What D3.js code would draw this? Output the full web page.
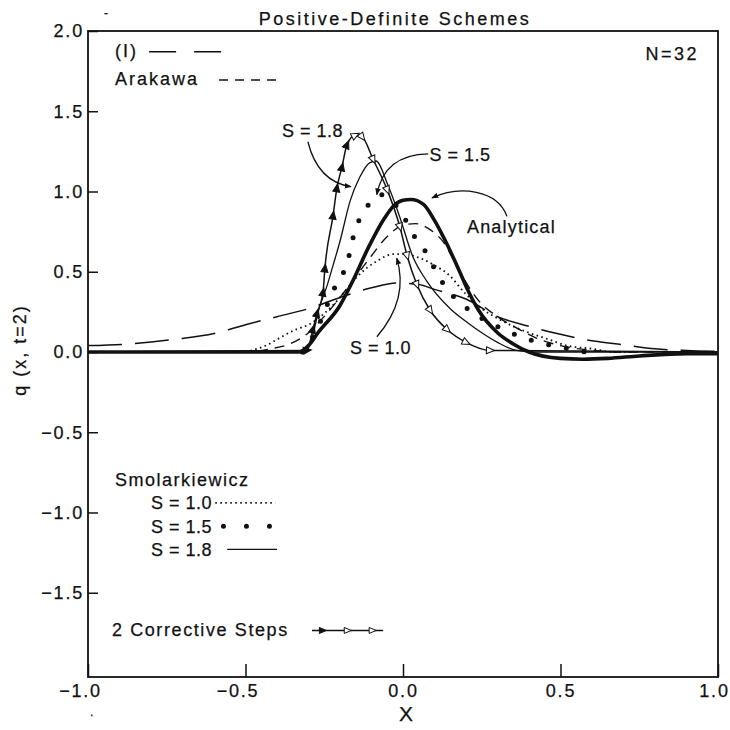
<!DOCTYPE html>
<html><head><meta charset="utf-8">
<script src="https://cdn.jsdelivr.net/npm/d3@7"></script>
<style>
body{margin:0;background:#fff;}
text{font-family:"Liberation Sans",Arial,Helvetica,sans-serif;fill:#111;stroke:#111;stroke-width:0.25;}
</style></head>
<body>
<svg id="chart" width="730" height="730"></svg>
<script>
// ---------- data ----------
const xTicks = [-1.0, -0.5, 0.0, 0.5, 1.0];
const xTickLabels = ["\u22121.0", "\u22120.5", "0.0", "0.5", "1.0"];
const yTicks = [2.0, 1.5, 1.0, 0.5, 0.0, -0.5, -1.0, -1.5];
const yTickLabels = ["2.0", "1.5", "1.0", "0.5", "0.0", "\u22120.5", "\u22121.0", "\u22121.5"];

const analyticalX = [-1, -0.6, -0.4, -0.33, -0.3, -0.27, -0.2, -0.16, -0.11, -0.06, -0.03, 0.0, 0.025, 0.065, 0.1, 0.13, 0.18, 0.2, 0.24, 0.3, 0.35, 0.4, 0.5, 0.57, 0.65, 0.75, 0.9, 1.0];
const analyticalY = [0.0, 0.0, 0.0, 0.0, 0.04, 0.12, 0.29, 0.44, 0.65, 0.83, 0.91, 0.945, 0.95, 0.92, 0.82, 0.71, 0.50, 0.41, 0.26, 0.12, 0.05, 0.0, -0.04, -0.045, -0.04, -0.025, -0.01, -0.01];

const schemeIX = [-1.0, -0.87, -0.72, -0.6, -0.5, -0.4, -0.3, -0.2, -0.1, -0.02, 0.05, 0.1, 0.2, 0.3, 0.4, 0.5, 0.6, 0.7, 0.8, 0.9, 1.0];
const schemeIY = [0.04, 0.05, 0.08, 0.115, 0.17, 0.22, 0.27, 0.34, 0.40, 0.43, 0.42, 0.39, 0.33, 0.22, 0.16, 0.11, 0.07, 0.045, 0.02, 0.01, 0.005];

const arakawaX = [-1, -0.5, -0.42, -0.36, -0.3, -0.26, -0.2, -0.15, -0.1, -0.05, 0.0, 0.04, 0.08, 0.13, 0.18, 0.24, 0.3, 0.36, 0.42, 0.5, 0.6, 0.7, 1.0];
const arakawaY = [0.0, 0.0, 0.02, 0.05, 0.12, 0.2, 0.34, 0.47, 0.6, 0.72, 0.79, 0.8, 0.77, 0.68, 0.5, 0.32, 0.22, 0.15, 0.09, 0.04, 0.01, 0.0, 0.0];

const s10X = [-0.5, -0.43, -0.39, -0.34, -0.3, -0.25, -0.2, -0.15, -0.08, -0.03, 0.0, 0.06, 0.1, 0.14, 0.2, 0.25, 0.3, 0.35, 0.4, 0.46, 0.52, 0.6, 0.67, 0.75];
const s10Y = [0.0, 0.045, 0.09, 0.14, 0.17, 0.24, 0.34, 0.46, 0.57, 0.61, 0.61, 0.58, 0.54, 0.49, 0.36, 0.27, 0.21, 0.16, 0.12, 0.08, 0.04, 0.02, 0.0, 0.0];

const s15X = [-0.32, -0.3, -0.26, -0.22, -0.19, -0.17, -0.155, -0.125, -0.095, -0.07, -0.04, 0.0, 0.03, 0.07, 0.1, 0.14, 0.18, 0.25, 0.32, 0.38, 0.43, 0.5, 0.58];
const s15Y = [0.0, 0.05, 0.2, 0.39, 0.49, 0.61, 0.74, 0.87, 0.95, 0.98, 0.95, 0.85, 0.74, 0.63, 0.52, 0.39, 0.31, 0.21, 0.14, 0.09, 0.06, 0.03, 0.0];

const s18X = [-1, -0.31, -0.29, -0.265, -0.24, -0.222, -0.2, -0.168, -0.137, -0.105, -0.085, -0.05, -0.01, 0.03, 0.076, 0.15, 0.2, 0.25, 0.3, 0.36, 0.42, 1.0];
const s18Y = [0.0, 0.0, 0.08, 0.28, 0.42, 0.54, 0.69, 0.94, 1.09, 1.18, 1.19, 1.05, 0.84, 0.6, 0.44, 0.27, 0.19, 0.12, 0.06, 0.01, 0.0, 0.0];

const corrX = [-1, -0.305, -0.286, -0.273, -0.254, -0.248, -0.222, -0.21, -0.194, -0.178, -0.152, -0.13, -0.095, -0.05, -0.01, 0.013, 0.044, 0.086, 0.14, 0.2, 0.276, 1.0];
const corrY = [0.0, 0.01, 0.14, 0.24, 0.37, 0.52, 0.85, 1.02, 1.15, 1.29, 1.35, 1.34, 1.2, 1.01, 0.78, 0.6, 0.42, 0.26, 0.14, 0.06, 0.01, 0.0];

// ---------- setup ----------
const svg = d3.select("#chart");
const x = d3.scaleLinear().domain([-1, 1]).range([88, 718]);
const y = d3.scaleLinear().domain([-2.025, 2]).range([677, 31]);
const FONT = 18;

const zip = (xs, ys) => xs.map((v, i) => [v, ys[i]]);
const line = d3.line().x(d => x(d[0])).y(d => y(d[1])).curve(d3.curveMonotoneX);

// arrow marker
const defs = svg.append("defs");
defs.append("marker").attr("id", "arrow").attr("viewBox", "0 0 10 10")
  .attr("refX", 9).attr("refY", 5).attr("markerWidth", 7).attr("markerHeight", 7)
  .attr("orient", "auto").attr("markerUnits", "userSpaceOnUse")
  .append("path").attr("d", "M0,1 L10,5 L0,9 Z").attr("fill", "#111");

const plot = svg.append("g");

// axes
const xAxis = d3.axisBottom(x).tickValues(xTicks).tickFormat((d, i) => xTickLabels[i])
  .tickSizeInner(-13).tickSizeOuter(0).tickPadding(7);
const gx = svg.append("g").attr("transform", `translate(0,${y(-2.025)})`).call(xAxis);
gx.select(".domain").remove();
gx.selectAll("line").attr("stroke", "#111").attr("stroke-width", 1.5);
gx.selectAll("text").attr("font-size", FONT).attr("letter-spacing", 1.8)
  .attr("dx", (d) => d < 0 ? -8 : (d === 1 ? -4 : 0));

const yAxis = d3.axisLeft(y).tickValues(yTicks).tickFormat((d, i) => yTickLabels[i])
  .tickSizeInner(-10).tickSizeOuter(0).tickPadding(4);
const gy = svg.append("g").attr("transform", `translate(${x(-1)},0)`).call(yAxis);
gy.select(".domain").remove();
gy.selectAll("line").attr("stroke", "#111").attr("stroke-width", 1.5);
gy.selectAll("text").attr("font-size", FONT).attr("letter-spacing", 1.8);

// frame
svg.append("rect").attr("x", x(-1)).attr("y", y(2)).attr("width", x(1) - x(-1))
  .attr("height", y(-2.025) - y(2)).attr("fill", "none").attr("stroke", "#111").attr("stroke-width", 1.8);

// curves
function drawCurve(xs, ys, style) {
  return plot.append("path").datum(zip(xs, ys)).attr("d", line).attr("fill", "none")
    .attr("stroke", "#111").attr("stroke-width", style.w)
    .attr("stroke-dasharray", style.dash || null)
    .attr("stroke-linecap", style.cap || "butt");
}
const styleI = {w: 1.5, dash: "34 13"};
const styleAr = {w: 1.4, dash: "10 7"};
const style10 = {w: 1.8, dash: "1.6 3.4"};
const style15 = {w: 5, dash: "0 18", cap: "round"};
const style18 = {w: 1.3};
const styleCorr = {w: 1.5};
const styleAn = {w: 3.6};

drawCurve(schemeIX, schemeIY, styleI);
drawCurve(arakawaX, arakawaY, styleAr);
drawCurve(s10X, s10Y, style10);
drawCurve(s15X, s15Y, style15);
drawCurve(s18X, s18Y, style18);
drawCurve(corrX, corrY, styleCorr);
drawCurve(analyticalX, analyticalY, styleAn);

// triangle markers along the corrective-steps curve
const tri = "M4.5,0 L-3.5,-3.5 L-3.5,3.5 Z";
const peakIdx = corrY.indexOf(d3.max(corrY));
for (let i = 1; i < corrX.length - 1; i++) {
  const px = x(corrX[i]), py = y(corrY[i]);
  const ax = x(corrX[i + 1]) - x(corrX[i - 1]);
  const ay = y(corrY[i + 1]) - y(corrY[i - 1]);
  const ang = Math.atan2(ay, ax) * 180 / Math.PI;
  plot.append("path").attr("d", tri)
    .attr("transform", `translate(${px},${py}) rotate(${ang})`)
    .attr("fill", i < peakIdx ? "#111" : "#fff").attr("stroke", "#111").attr("stroke-width", 1);
}

// ---------- annotations (data coordinates) ----------
function arrowPath(pts) {
  const p = pts.map(d => [x(d[0]), y(d[1])]);
  let d = `M${p[0][0]},${p[0][1]}`;
  if (p.length === 3) d += ` Q${p[1][0]},${p[1][1]} ${p[2][0]},${p[2][1]}`;
  else d += ` C${p[1][0]},${p[1][1]} ${p[2][0]},${p[2][1]} ${p[3][0]},${p[3][1]}`;
  svg.append("path").attr("d", d).attr("fill", "none").attr("stroke", "#111")
    .attr("stroke-width", 1.3).attr("marker-end", "url(#arrow)");
}
function label(tx, ty, str, opts = {}) {
  return svg.append("text").attr("x", x(tx)).attr("y", y(ty)).text(str)
    .attr("font-size", opts.size || FONT).attr("letter-spacing", opts.ls != null ? opts.ls : 2)
    .attr("text-anchor", opts.anchor || "start");
}
// S = 1.8
label(-0.384, 1.34, "S = 1.8", {ls: 0.5});
arrowPath([[-0.302, 1.31], [-0.27, 1.06], [-0.165, 1.03]]);
// S = 1.5
label(0.084, 1.19, "S = 1.5", {ls: 0.5});
arrowPath([[0.08, 1.235], [-0.06, 1.23], [-0.083, 0.98]]);
// Analytical
label(0.203, 0.74, "Analytical", {ls: 1.2});
arrowPath([[0.33, 0.845], [0.30, 1.01], [0.18, 1.04], [0.092, 0.96]]);
// S = 1.0
label(-0.168, -0.01, "S = 1.0", {ls: 0.5});
arrowPath([[-0.083, 0.095], [0.02, 0.33], [-0.02, 0.585]]);

// legend top
label(-0.914, 1.84, "(I)");
label(-0.914, 1.665, "Arakawa");
label(0.94, 1.82, "N=32", {anchor: "end", ls: 2.5});
function legendLine(x0, x1, vy, style) {
  svg.append("path").datum([[x0, vy], [x1, vy]])
    .attr("d", d3.line().x(d => x(d[0])).y(d => y(d[1])))
    .attr("stroke", "#111").attr("stroke-width", style.w).attr("fill", "none")
    .attr("stroke-dasharray", style.dash || null).attr("stroke-linecap", style.cap || "butt");
}
legendLine(-0.806, -0.55, 1.87, {w: 1.5, dash: "27 18"});
legendLine(-0.584, -0.4, 1.695, {w: 1.4, dash: "9 7"});

// legend bottom
label(-0.914, -0.835, "Smolarkiewicz", {ls: 1.5});
label(-0.8, -0.98, "S = 1.0", {ls: 0.5});
label(-0.8, -1.125, "S = 1.5", {ls: 0.5});
label(-0.8, -1.27, "S = 1.8", {ls: 0.5});
legendLine(-0.596, -0.405, -0.94, style10);
legendLine(-0.57, -0.42, -1.085, {w: 5, dash: "0 23", cap: "round"});
legendLine(-0.558, -0.4, -1.23, style18);
label(-0.924, -1.77, "2 Corrective Steps", {ls: 1.6});
legendLine(-0.289, -0.063, -1.735, styleCorr);
const legTri = [-0.256, -0.177, -0.098];
legTri.forEach((v, i) => {
  svg.append("path").attr("d", "M4,0 L-3,-3 L-3,3 Z")
    .attr("transform", `translate(${x(v)},${y(-1.735)})`)
    .attr("fill", i === 0 ? "#111" : "#fff").attr("stroke", "#111").attr("stroke-width", 1);
});

// titles
svg.append("text").attr("x", 395).attr("y", 25).attr("text-anchor", "middle")
  .attr("font-size", FONT).attr("letter-spacing", 2.5).text("Positive-Definite Schemes");
svg.append("text").attr("x", 406).attr("y", 721).attr("text-anchor", "middle")
  .attr("font-size", 21).text("X");
svg.append("text").attr("transform", "translate(26,350) rotate(-90)").attr("text-anchor", "middle")
  .attr("font-size", FONT).attr("letter-spacing", 2).text("q (x, t=2)");
// scan marks
svg.append("text").attr("x", 104).attr("y", 17).attr("font-size", 12).text("-");
svg.append("text").attr("x", 90).attr("y", 716).attr("font-size", 12).text(".");
</script>
</body></html>
